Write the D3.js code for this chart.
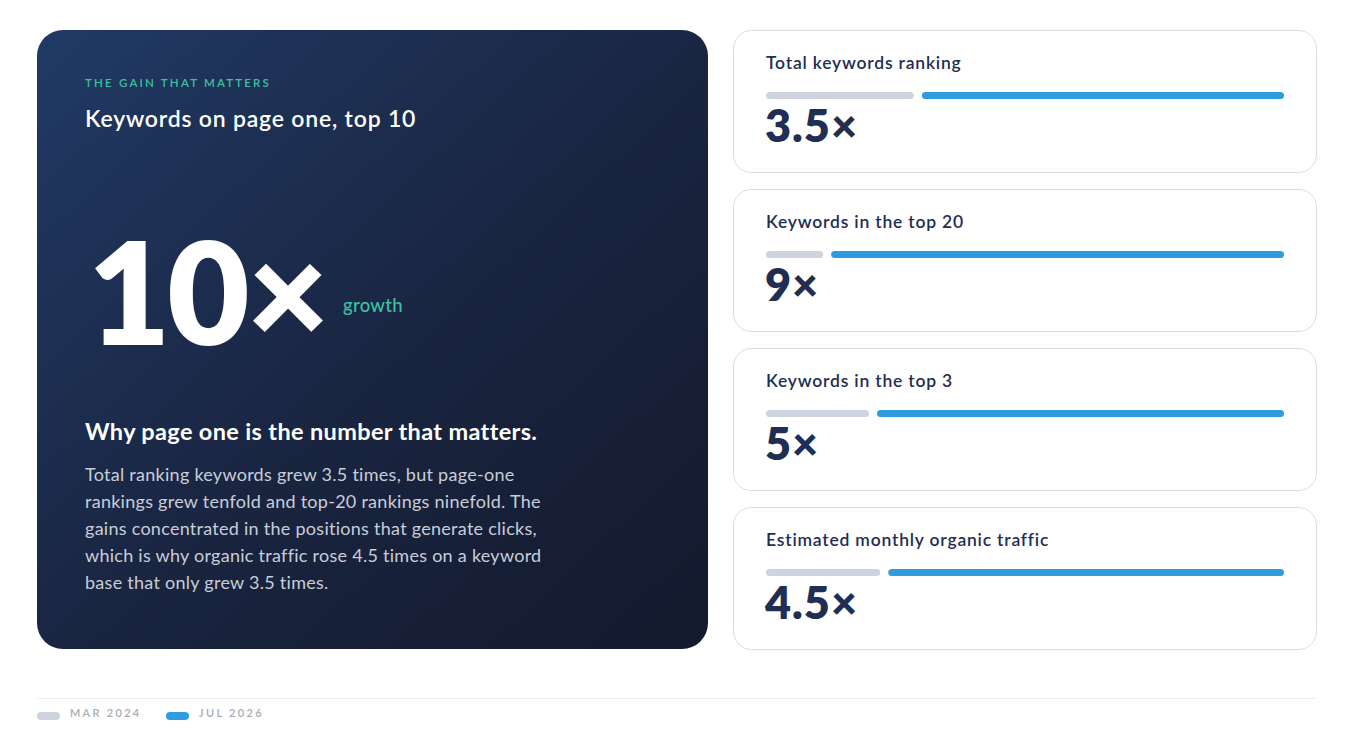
<!DOCTYPE html>
<html>
<head>
<meta charset="utf-8">
<script src="https://cdn.jsdelivr.net/npm/d3@7"></script>
<style>
  html, body { margin: 0; padding: 0; background: #ffffff; }
  svg { display: block; font-family: Lato, "Noto Sans", sans-serif; }
</style>
</head>
<body>
<div id="chart"></div>
<script>
// metric rows
var categories = ['Total keywords ranking', 'Keywords in the top 20', 'Keywords in the top 3', 'Estimated monthly organic traffic'];
var multipliers = ['3.5×', '9×', '5×', '4.5×'];
// bar split per row (share of track, %)
var marShare = [29, 11.2, 20.2, 22.4];
var julShare = [71, 88.8, 79.8, 77.6];
var periods = ['MAR 2024', 'JUL 2026'];

var heroKicker = 'THE GAIN THAT MATTERS';
var heroTitle = 'Keywords on page one, top 10';
var heroValue = '10×';
var heroUnit = 'growth';
var heroHeading = 'Why page one is the number that matters.';
var heroBody = [
  'Total ranking keywords grew 3.5 times, but page-one',
  'rankings grew tenfold and top-20 rankings ninefold. The',
  'gains concentrated in the positions that generate clicks,',
  'which is why organic traffic rose 4.5 times on a keyword',
  'base that only grew 3.5 times.'
];

var colors = {
  mar: '#cfd3df',
  jul: '#2f9ce0',
  ink: '#1f2e52',
  teal: '#3cc2a0',
  border: '#d9dce3'
};

var W = 1360, H = 734;

var svg = d3.select('#chart').append('svg')
  .attr('width', W)
  .attr('height', H);

var defs = svg.append('defs');
var grad = defs.append('linearGradient')
  .attr('id', 'heroGrad')
  .attr('x1', '0%').attr('y1', '0%')
  .attr('x2', '100%').attr('y2', '100%');
grad.append('stop').attr('offset', '0%').attr('stop-color', '#213a65');
grad.append('stop').attr('offset', '55%').attr('stop-color', '#19243f');
grad.append('stop').attr('offset', '100%').attr('stop-color', '#131a2d');

// ---- hero card
var hero = svg.append('g').attr('transform', 'translate(37,30)');
hero.append('rect')
  .attr('width', 671).attr('height', 619)
  .attr('rx', 26)
  .attr('fill', 'url(#heroGrad)');

hero.append('text')
  .attr('x', 48).attr('y', 57)
  .attr('fill', colors.teal)
  .attr('font-size', 11.5).attr('font-weight', 600)
  .attr('letter-spacing', 2.2)
  .text(heroKicker);

hero.append('text')
  .attr('x', 48).attr('y', 97)
  .attr('fill', '#ffffff')
  .attr('font-size', 23).attr('font-weight', 600)
  .attr('letter-spacing', 0.8)
  .text(heroTitle);

hero.append('text')
  .attr('x', 51).attr('y', 315)
  .attr('fill', '#ffffff')
  .attr('font-size', 142).attr('font-weight', 800)
  .attr('letter-spacing', -3)
  .text(heroValue);

hero.append('text')
  .attr('x', 306).attr('y', 282)
  .attr('fill', colors.teal)
  .attr('font-size', 18.5).attr('font-weight', 500)
  .attr('letter-spacing', 0.3)
  .text(heroUnit);

hero.append('text')
  .attr('x', 48).attr('y', 410)
  .attr('fill', '#ffffff')
  .attr('font-size', 23.5).attr('font-weight', 700)
  .attr('letter-spacing', 0.35)
  .text(heroHeading);

hero.selectAll('text.body')
  .data(heroBody)
  .enter().append('text')
  .attr('class', 'body')
  .attr('x', 48)
  .attr('y', function(d, i){ return 451 + i * 27; })
  .attr('fill', '#c9cdd9')
  .attr('font-size', 18)
  .attr('letter-spacing', 0.27)
  .text(function(d){ return d; });

// ---- metric cards
var rows = categories.map(function(c, i){
  return { label: c, mult: multipliers[i], mar: marShare[i], jul: julShare[i] };
});

var cardY = d3.scaleBand()
  .domain(d3.range(rows.length))
  .range([30, 649 + 17])
  .paddingInner(0)
  .paddingOuter(0);

var cardW = 583, cardH = 142;
var trackW = 518, gap = 8;

var cards = svg.selectAll('g.card')
  .data(rows)
  .enter().append('g')
  .attr('class', 'card')
  .attr('transform', function(d, i){ return 'translate(733,' + cardY(i) + ')'; });

cards.append('rect')
  .attr('x', 0.5).attr('y', 0.5)
  .attr('width', cardW).attr('height', cardH)
  .attr('rx', 18)
  .attr('fill', '#ffffff')
  .attr('stroke', colors.border);

cards.append('text')
  .attr('x', 33).attr('y', 39)
  .attr('fill', colors.ink)
  .attr('font-size', 17.5).attr('font-weight', 600)
  .attr('letter-spacing', 0.8)
  .text(function(d){ return d.label; });

cards.each(function(d){
  var g = d3.select(this);
  var x = d3.scaleLinear()
    .domain([0, d.mar + d.jul])
    .range([0, trackW - gap]);
  g.append('rect')
    .attr('x', 33).attr('y', 62)
    .attr('width', x(d.mar)).attr('height', 7)
    .attr('rx', 3.5)
    .attr('fill', colors.mar);
  g.append('rect')
    .attr('x', 33 + x(d.mar) + gap).attr('y', 62)
    .attr('width', x(d.jul)).attr('height', 7)
    .attr('rx', 3.5)
    .attr('fill', colors.jul);
});

cards.append('text')
  .attr('x', 32).attr('y', 112)
  .attr('fill', colors.ink)
  .attr('font-size', 45).attr('font-weight', 800)
  .attr('letter-spacing', 1)
  .text(function(d){ return d.mult; });

// ---- legend
svg.append('line')
  .attr('x1', 37).attr('x2', 1316)
  .attr('y1', 698.5).attr('y2', 698.5)
  .attr('stroke', '#eceef2');

var legendX = d3.scalePoint()
  .domain(periods)
  .range([37, 166]);

var legend = svg.selectAll('g.legend')
  .data(periods)
  .enter().append('g')
  .attr('class', 'legend')
  .attr('transform', function(d){ return 'translate(' + legendX(d) + ',712)'; });

legend.append('rect')
  .attr('width', 23).attr('height', 8)
  .attr('rx', 4)
  .attr('fill', function(d, i){ return i === 0 ? colors.mar : colors.jul; });

legend.append('text')
  .attr('x', 33).attr('y', 5)
  .attr('fill', '#a7abb8')
  .attr('font-size', 11).attr('font-weight', 600)
  .attr('letter-spacing', 2.3)
  .text(function(d){ return d; });
</script>
</body>
</html>
